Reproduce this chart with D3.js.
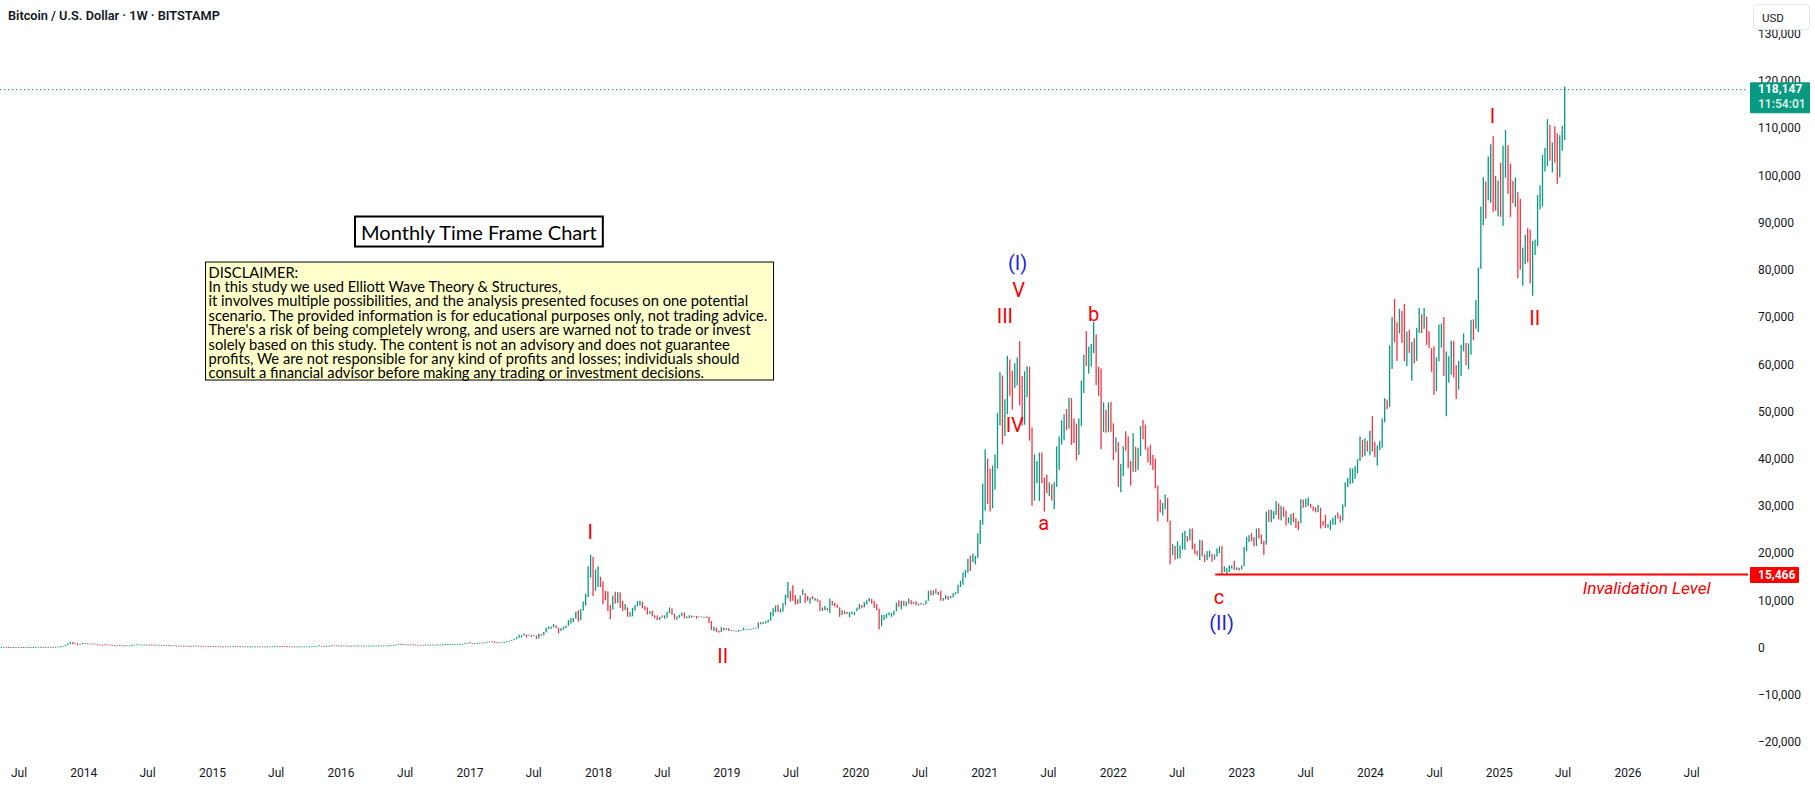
<!DOCTYPE html>
<html>
<head>
<meta charset="utf-8">
<script src="https://cdn.jsdelivr.net/npm/d3@7"></script>
<style>
  body { margin: 0; background: #fff; overflow: hidden; }
  svg { display: block; font-family: Roboto, "Liberation Sans", sans-serif; }
</style>
</head>
<body>
<svg id="chart" width="1815" height="788"></svg>
<script>
// weekly bars as [high, low, close]; each year's list starts on the Monday in yearStarts
// the open of a bar is the close of the bar before it
const firstOpen = 112
const yearStarts = ["2013-05-06", "2014-01-06", "2015-01-05", "2016-01-04", "2017-01-02", "2018-01-01",
  "2019-01-07", "2020-01-06", "2021-01-04", "2022-01-03", "2023-01-02", "2024-01-01", "2025-01-06"]

const w2013 = [[125,106,117],[124,110,123],[134,120,133],[135,117,122],[124,100,107],[110,98,100],[112,99,108],[109,88,90],
  [92,66,77],[99,72,98],[99,87,91],[98,87,95],[108,94,104],[108,101,105],[112,104,110],[123,110,121],[138,118,127],
  [135,117,121],[140,120,135],[135,123,130],[135,127,133],[141,110,127],[142,121,140],[175,140,174],[220,170,190],
  [230,180,227],[340,220,335],[510,320,500],[850,480,800],[1163,770,1000],[1150,680,880],[990,800,870],[900,450,640],
  [770,620,740],[1000,720,940]]
const w2014 = [[1000,800,850],[890,800,830],[880,800,830],[850,790,810],[830,640,680],[690,550,620],[640,460,570],
  [600,420,560],[700,560,635],[650,600,630],[625,560,565],[590,445,460],[490,420,445],[470,360,420],[540,400,500],
  [520,430,440],[460,420,435],[450,430,440],[450,430,445],[580,445,575],[640,560,630],[680,620,655],[670,560,595],
  [625,585,595],[630,560,600],[650,600,635],[640,610,625],[630,605,620],[625,590,595],[600,570,585],[600,575,590],
  [590,470,500],[530,460,510],[515,480,495],[500,470,475],[480,455,475],[480,380,400],[440,390,400],[400,275,365],
  [370,320,360],[400,355,390],[390,350,355],[360,320,330],[370,320,365],[460,355,375],[385,350,370],[385,360,375],
  [380,360,360],[365,330,345],[350,300,320],[335,310,320],[330,270,280]]
const w2015 = [[290,255,270],[275,152,210],[310,200,255],[260,210,225],[245,210,220],[270,215,260],[250,225,240],
  [275,235,275],[300,265,285],[300,275,285],[295,240,250],[265,235,245],[260,240,255],[260,220,225],[230,215,225],
  [240,215,225],[245,220,240],[245,230,240],[245,232,235],[240,230,235],[240,222,225],[230,220,230],[250,225,245],
  [255,240,245],[260,240,255],[270,250,270],[310,265,290],[295,270,280],[295,270,290],[300,280,280],[285,260,265],
  [270,250,255],[260,200,230],[235,200,230],[235,225,230],[245,225,230],[235,225,230],[240,225,235],[245,235,240],
  [250,240,245],[270,245,265],[290,265,285],[335,280,325],[500,320,385],[385,300,330],[340,315,325],[370,315,370],
  [400,355,395],[465,390,455],[470,420,440],[465,420,420],[435,410,430]]
const w2016 = [[460,420,450],[450,360,380],[420,370,400],[400,365,375],[390,365,385],[410,375,405],[445,400,435],
  [440,405,435],[440,400,410],[420,395,410],[420,405,410],[420,405,415],[425,410,420],[425,415,420],[430,420,430],
  [465,425,460],[470,440,460],[465,440,455],[460,445,455],[460,435,445],[535,435,525],[590,515,585],[610,570,605],
  [780,600,760],[770,550,660],[700,620,680],[690,610,650],[680,640,670],[680,650,655],[660,620,625],[630,480,590],
  [600,565,570],[585,565,580],[590,565,570],[615,570,605],[630,600,605],[612,600,605],[610,590,600],[615,595,610],
  [620,605,615],[645,610,640],[660,625,655],[720,650,700],[745,685,700],[715,690,700],[755,690,735],[745,725,735],
  [770,730,765],[775,750,770],[795,765,790],[935,790,920],[1000,890,995]]
const w2017 = [[1150,880,900],[915,750,820],[930,820,920],[930,880,920],[1040,910,1020],[1065,940,1000],[1065,985,1050],
  [1200,1050,1180],[1290,1170,1260],[1330,1100,1240],[1260,940,1020],[1120,890,960],[1100,940,1090],[1210,1070,1180],
  [1210,1160,1180],[1270,1170,1250],[1440,1240,1420],[1620,1400,1600],[1850,1600,1770],[2200,1730,2190],[2760,2050,2200],
  [2560,2070,2550],[2980,2530,2650],[2760,2100,2580],[2770,2530,2520],[2640,2280,2500],[2660,2460,2500],[2540,1830,1920],
  [2900,1900,2750],[2820,2450,2730],[3300,2620,3260],[4200,3200,4050],[4480,3950,4100],[4420,3950,4380],[4980,4300,4560],
  [4700,4100,4200],[4200,2970,3700],[4100,3500,3780],[4400,3750,4380],[4600,4130,4600],[5800,4600,5700],[6200,5100,6000],
  [6250,5400,6150],[7600,6100,7400],[7880,5500,5900],[8100,5800,7800],[9750,7800,9700],[11400,8900,11200],
  [17200,10700,15000],[19666,14800,19000],[19200,10900,13800],[16500,12000,13900]]
const w2018 = [[17200,12800,14200],[15000,12800,13600],[14000,9200,12700],[12000,10000,11600],[11900,7700,8200],
  [9000,6000,8100],[11000,8000,10400],[11800,9300,10300],[11700,9400,11400],[11700,8400,9200],[9900,7700,8200],
  [9200,7900,8200],[8500,6500,6800],[7500,6500,7000],[8400,6600,8300],[9000,7800,8900],[9800,8700,9200],[9900,8900,9700],
  [9700,8300,8600],[8800,7900,8200],[8500,7000,7400],[7700,7100,7600],[7800,6600,6700],[6800,6200,6400],[6800,5800,6100],
  [6500,5800,6400],[6800,6300,6300],[6800,6100,6350],[7600,6300,7400],[8500,7300,8200],[8300,6900,7000],[7150,5900,6300],
  [6600,5900,6400],[6900,6300,6700],[7400,6700,7300],[7400,6200,6300],[6600,6200,6500],[6800,6200,6700],[6800,6300,6600],
  [6700,6500,6600],[6700,6100,6450],[6600,6400,6450],[6600,6400,6400],[6500,6300,6400],[6600,6300,6350],[6500,5200,5600],
  [5600,3700,4000],[4400,3500,4100],[4200,3300,3550],[3600,3150,3250],[4300,3250,3950],[4200,3600,3850],[4100,3700,4000]]
const w2019 = [[4100,3500,3550],[3700,3500,3550],[3650,3450,3500],[3550,3350,3400],[3700,3350,3650],[3700,3550,3650],
  [4200,3650,3800],[3900,3750,3850],[3950,3750,3950],[4000,3800,4000],[4100,3900,4000],[4150,3950,4150],[5300,4100,5200],
  [5400,4900,5100],[5400,5000,5300],[5600,5100,5300],[5900,5300,5800],[7500,5700,7200],[8300,6600,8000],[8900,7500,8700],
  [9000,7500,7600],[8200,7400,8000],[9400,7600,8950],[11200,8950,10800],[13880,10400,11800],[12000,9700,11400],
  [13200,9900,10200],[11100,9100,9700],[10200,9200,9600],[11000,9400,10900],[12300,11100,11500],[11500,9500,10300],
  [10900,9900,10100],[10600,9300,10400],[10900,10200,10300],[10500,9900,10300],[10300,9700,10000],[10000,7700,8200],
  [8500,7700,8300],[8800,7900,8300],[8400,7800,8200],[10350,7300,9500],[9900,8900,9200],[9500,8700,8800],[9100,8400,8500],
  [8500,6500,7100],[7900,6900,7500],[7800,7100,7250],[7500,7100,7100],[7500,6400,7300],[7600,7100,7400],[7500,6900,7760]]
const w2020 = [[8450,7700,8200],[9200,8100,8900],[9000,8300,8600],[9600,8500,9300],[10000,9100,9900],[10500,9700,9900],
  [10300,9300,9700],[9900,8400,8500],[9200,7900,8000],[8200,3850,5400],[6900,4500,5800],[6900,5800,6250],[7200,6200,6800],
  [7450,6800,6900],[7300,6500,7100],[7800,6800,7700],[9500,7700,8900],[10000,8600,8700],[9900,8100,9700],[9900,8800,8800],
  [9700,8700,9450],[10400,9300,9700],[10000,9100,9400],[9600,9200,9300],[9800,8900,9100],[9300,8900,9250],[9500,9100,9300],
  [9300,9000,9200],[10000,9100,9900],[12000,9900,11800],[12100,11000,11700],[12100,11100,11900],[12470,11400,11700],
  [11800,11100,11700],[12050,9900,10250],[10500,9900,10300],[11100,10200,10900],[10900,10100,10700],[10950,10400,10700],
  [11500,10600,11400],[11700,11200,11500],[13300,11400,13000],[14100,12800,13800],[15900,13300,15500],[16400,14800,16100],
  [18800,15800,18400],[19500,16200,18200],[19900,18100,19100],[19400,17600,19250],[24200,19000,24000],[27000,21900,26400],
  [34700,26000,32200]]
const w2021 = [[41950,29000,38200],[40000,30400,35800],[37900,28800,32300],[38500,29500,34300],[40900,33400,39200],
  [49700,37900,48600],[58350,47000,57500],[57600,43000,45200],[52600,44800,51200],[61780,49400,59000],[61000,53300,57500],
  [58600,50400,55800],[60200,55000,58700],[61400,55500,59800],[64900,51300,56100],[57500,47000,49200],[58500,47200,56600],
  [59600,53000,58300],[59500,43800,46400],[46600,30000,34700],[40900,31100,35600],[39500,34800,35800],[41300,31000,39000],
  [41300,34800,35600],[36000,28800,34600],[36600,32700,34100],[35000,32100,34200],[34600,31100,31800],[35000,29300,34200],
  [42600,34000,39900],[44700,37600,44400],[48100,43000,47000],[49400,43900,49300],[50500,46100,48900],[52900,46400,51800],
  [52800,42900,48300],[48500,43300,47200],[47400,39600,43200],[48500,40800,48200],[56500,46900,54900],[62000,53900,61500],
  [67000,59600,61100],[63700,58000,61300],[64300,59500,63300],[69000,62300,65500],[66300,55600,59700],[59500,53300,57300],
  [59100,42000,49400],[51900,45600,50100],[50400,45500,46700],[51900,45600,50800],[52000,45700,47300]]
const w2022 = [[47500,39700,41800],[44500,41300,43100],[43500,34000,36300],[38900,32900,37900],[42600,36300,42400],
  [45800,41700,42200],[44700,38000,38400],[39500,34300,37700],[45400,37200,38000],[42500,37200,37800],[42300,37600,41300],
  [46900,40500,46800],[48200,44100,46400],[47200,41900,42200],[42400,39200,40400],[42900,38600,39500],[40800,37600,38500],
  [40000,33700,34100],[34300,26700,31300],[31300,28600,29400],[30600,28000,29500],[32400,29300,29900],[31700,26600,26600],
  [26900,17600,20600],[21900,19600,21000],[21500,18600,19300],[22500,18800,20800],[21600,18900,20800],[24300,20700,22600],
  [24700,20700,23300],[23600,22400,23200],[25200,22700,24300],[25200,20800,21500],[22000,19800,20000],[20500,19500,19800],
  [22800,18500,21800],[22700,19300,19400],[19700,18100,18800],[20400,18500,19300],[20500,19100,19400],[19800,18200,19200],
  [19700,18600,19600],[21000,19300,20600],[21400,20000,20900],[21500,15600,16300],[17200,16000,16300],[16800,15466,16400],
  [17400,16000,17100],[17400,16700,17100],[18400,16400,16800],[17000,16400,16800],[16900,16300,16600]]
const w2023 = [[17400,16500,17200],[21300,17200,20900],[23400,20400,22700],[23800,22300,23000],[24200,22500,22900],
  [23400,21400,21800],[25200,21500,24600],[25300,23100,23600],[23900,21900,22400],[22600,19600,22100],[28800,21800,28000],
  [29200,26600,27900],[29200,26500,28200],[28900,27200,28300],[31000,28100,30300],[30500,27100,27800],[30000,26900,29200],
  [29800,27700,28400],[29000,25800,26900],[27600,26300,27100],[28300,25900,28100],[28500,26600,27100],[27400,25300,26500],
  [26800,24800,26300],[31400,26300,30500],[31300,29600,30300],[31500,29700,30300],[31800,30000,30300],[30400,29600,29800],
  [29900,28900,29300],[29700,28600,29100],[30200,28700,29400],[29600,25200,26100],[26800,25800,26000],[28100,25300,25800],
  [26100,25400,25800],[26900,24900,26500],[27500,26000,26600],[28000,26000,27970],[28600,27300,27900],[28000,26500,27150],
  [30300,26900,29900],[35000,29800,34500],[35900,34000,35000],[38000,34600,37100],[37900,34800,37400],[38400,35700,37400],
  [39900,36900,39500],[44700,39500,43800],[44000,40300,41900],[44300,40600,43000],[43800,41500,42300]]
const w2024 = [[45900,40700,43900],[49000,41500,41700],[43500,40300,41600],[42800,38500,42100],[43800,41800,42600],
  [48500,42300,48300],[52800,47700,52100],[52500,50500,51700],[64000,50900,63100],[70000,59000,68900],[73800,64600,68300],
  [68900,60700,67200],[71700,66500,69700],[71300,64500,69300],[72800,60600,63900],[66900,59600,64900],[67300,62400,63100],
  [64700,56500,64000],[65500,60200,61500],[67700,60700,66900],[71900,66600,68500],[70600,66600,67800],[71900,67500,69600],
  [70100,64100,66700],[67000,63400,63200],[63400,58400,62700],[63800,53500,55800],[61500,54300,60800],[68400,60600,68200],
  [68600,63500,68200],[70000,57500,58100],[62700,49000,58700],[61700,56100,58900],[65000,57800,64200],[64900,57200,57300],
  [59800,52600,54800],[60700,54600,59900],[64100,57500,63600],[66500,62700,65600],[64500,59800,62800],[64400,58900,62900],
  [69400,62000,68400],[69500,65100,68000],[73600,67500,68800],[80500,66800,80400],[93400,80200,90500],[99600,89400,98000],
  [98700,90800,97700],[104000,94700,101300],[106600,94200,104400],[108300,92200,95200],[99900,92500,93700],[98900,91300,98300]]
const w2025 = [[102700,91200,94500],[106300,89300,101300],[109600,99500,104700],[106400,96100,97700],[102500,91200,96500],
  [98800,94100,96100],[99500,93300,96300],[96500,78200,94200],[95000,80000,80700],[84700,76600,82600],[87400,81200,86100],
  [88800,81600,82400],[88500,77100,78400],[86100,74500,84000],[86400,83100,85200],[95800,85000,93700],[97900,92800,94300],
  [104300,93400,104100],[105800,100800,106400],[111900,102000,109000],[110700,103100,105700],[107000,100600,105800],
  [110400,102700,105600],[108900,98200,100900],[108500,99600,108300],[110500,105200,108900],[118800,107500,118147]]
const yearBars = [w2013, w2014, w2015, w2016, w2017, w2018, w2019, w2020, w2021, w2022, w2023, w2024, w2025]

const lastPrice = 118147
const lastTimer = "11:54:01"
const invalidation = 15466
const invalidationFrom = "2022-10-19"

const priceTicks = [130000, 120000, 110000, 100000, 90000, 80000, 70000, 60000, 50000, 40000, 30000, 20000, 10000, 0, -10000, -20000]
const dateTicks = ["2013-07-01", "2014-01-01", "2014-07-01", "2015-01-01", "2015-07-01", "2016-01-01", "2016-07-01",
  "2017-01-01", "2017-07-01", "2018-01-01", "2018-07-01", "2019-01-01", "2019-07-01", "2020-01-01", "2020-07-01",
  "2021-01-01", "2021-07-01", "2022-01-01", "2022-07-01", "2023-01-01", "2023-07-01", "2024-01-01", "2024-07-01",
  "2025-01-01", "2025-07-01", "2026-01-01", "2026-07-01"]

// wave labels: [date, price, text, colour]
const waveLabels = [
  ["2017-12-10", 24520, "I", "#f70000"],
  ["2018-12-21", -1740, "II", "#f70000"],
  ["2021-03-01", 70200, "III", "#f70000"],
  ["2021-03-29", 47120, "IV", "#f70000"],
  ["2021-04-09", 75800, "V", "#f70000"],
  ["2021-04-06", 81500, "(I)", "#1f1fe0"],
  ["2021-06-19", 26370, "a", "#f70000"],
  ["2021-11-08", 70630, "b", "#f70000"],
  ["2022-10-30", 10690, "c", "#f70000"],
  ["2022-11-06", 5190, "(II)", "#1f1fe0"],
  ["2024-12-14", 112560, "I", "#f70000"],
  ["2025-04-13", 69840, "II", "#f70000"]
]

const boxTitle = "Monthly Time Frame Chart"
const boxTitleAt = ["2017-01-28", 88100]
const disclaimerAt = ["2014-12-14", 81640]
const disclaimer = [
  "DISCLAIMER:",
  "In this study we used Elliott Wave Theory & Structures,",
  "it involves multiple possibilities, and the analysis presented focuses on one potential",
  "scenario. The provided information is for educational purposes only, not trading advice.",
  "There's a risk of being completely wrong, and users are warned not to trade or invest",
  "solely based on this study. The content is not an advisory and does not guarantee",
  "profits, We are not responsible for any kind of profits and losses; individuals should",
  "consult a financial advisor before making any trading or investment decisions."
]
const invalidationText = ["2025-08-27", 11400, "Invalidation Level"]

const up = "#089981", down = "#f23645", ink = "#131722"

// build the bar list
const parse = d3.utcParse("%Y-%m-%d")
const bars = []
let prev = firstOpen
yearBars.forEach((list, i) => {
  const start = parse(yearStarts[i])
  list.forEach((b, k) => {
    bars.push({ date: d3.utcDay.offset(start, k * 7), open: prev, high: b[0], low: b[1], close: b[2] })
    prev = b[2]
  })
})

const plotRight = 1748, plotBottom = 756

const x = d3.scaleUtc()
  .domain([parse("2014-01-01"), parse("2026-01-01")])
  .range([83.3, 1627.4])
const y = d3.scaleLinear()
  .domain([0, 120000])
  .range([647.5, 80.9])

const svg = d3.select("#chart")

svg.append("defs").append("clipPath").attr("id", "plot")
  .append("rect").attr("x", 0).attr("y", 0).attr("width", plotRight).attr("height", plotBottom)

const plot = svg.append("g").attr("clip-path", "url(#plot)")

// candles
plot.append("g").selectAll("rect")
  .data(bars)
  .enter()
  .append("rect")
  .attr("x", d => x(d.date) - 0.65)
  .attr("width", 1.3)
  .attr("y", d => y(d.high))
  .attr("height", d => Math.max(1, y(d.low) - y(d.high)))
  .attr("fill", d => d.close >= d.open ? up : down)

// last price dotted line
plot.append("line")
  .attr("x1", 0).attr("x2", plotRight)
  .attr("y1", y(lastPrice)).attr("y2", y(lastPrice))
  .attr("stroke", up).attr("stroke-width", 1)
  .attr("stroke-dasharray", "1.5,2.5")

// invalidation line
plot.append("line")
  .attr("x1", x(parse(invalidationFrom))).attr("x2", plotRight)
  .attr("y1", y(invalidation)).attr("y2", y(invalidation))
  .attr("stroke", "#ff0000").attr("stroke-width", 2)

function fitWidth(sel, target) {
  const w = sel.node().getComputedTextLength()
  const fs = parseFloat(sel.attr("font-size"))
  return fs * target / w
}

const inv = plot.append("text")
  .attr("x", x(parse(invalidationText[0])))
  .attr("y", y(invalidationText[1]))
  .attr("font-size", 15)
  .attr("font-style", "italic")
  .attr("fill", "#f70000")
  .text(invalidationText[2])
inv.attr("font-size", fitWidth(inv, 128))

// wave labels
plot.append("g").selectAll("text")
  .data(waveLabels)
  .enter()
  .append("text")
  .attr("x", d => x(parse(d[0])))
  .attr("y", d => y(d[1]))
  .attr("text-anchor", "middle")
  .attr("dominant-baseline", "central")
  .attr("font-size", 20)
  .attr("fill", d => d[3])
  .text(d => d[2])

// title box
const tb = svg.append("g")
const tbt = tb.append("text")
  .attr("x", x(parse(boxTitleAt[0])))
  .attr("y", y(boxTitleAt[1]))
  .attr("text-anchor", "middle")
  .attr("dominant-baseline", "central")
  .attr("font-family", "Lato, sans-serif")
  .attr("font-size", 18)
  .attr("fill", "#000")
  .text(boxTitle)
tbt.attr("font-size", fitWidth(tbt, 236))
const tbb = tbt.node().getBBox()
tb.insert("rect", "text")
  .attr("x", tbb.x - 6).attr("y", y(boxTitleAt[1]) - 15)
  .attr("width", tbb.width + 12).attr("height", 30)
  .attr("fill", "#fff").attr("stroke", "#000").attr("stroke-width", 2)

// disclaimer box
const db = svg.append("g")
const dx = x(parse(disclaimerAt[0])), dy = y(disclaimerAt[1])
const lines = db.selectAll("text")
  .data(disclaimer)
  .enter()
  .append("text")
  .attr("x", dx + 3)
  .attr("y", (d, i) => dy + 9.5 + i * 14.4)
  .attr("dominant-baseline", "central")
  .attr("font-family", "Lato, sans-serif")
  .attr("font-size", 13)
  .attr("fill", "#000")
  .text(d => d)
const dfs = fitWidth(d3.select(lines.nodes()[3]), 559)
lines.attr("font-size", dfs)
db.insert("rect", "text")
  .attr("x", dx).attr("y", dy)
  .attr("width", 568).attr("height", 118)
  .attr("fill", "#ffffcc").attr("stroke", "#000").attr("stroke-width", 1)

// chart title
const title = svg.append("text")
  .attr("x", 8).attr("y", 20)
  .attr("font-size", 13).attr("font-weight", 600)
  .attr("fill", ink)
  .text("Bitcoin / U.S. Dollar \u00b7 1W \u00b7 BITSTAMP")
title.attr("font-size", fitWidth(title, 212))

// date axis
const xAxis = svg.append("g")
  .attr("transform", `translate(0,${plotBottom + 8})`)
  .call(d3.axisBottom(x)
    .tickValues(dateTicks.map(parse))
    .tickSize(0)
    .tickPadding(4)
    .tickFormat(d => d.getUTCMonth() === 6 ? "Jul" : d3.utcFormat("%Y")(d)))
xAxis.select(".domain").remove()
xAxis.selectAll("text").attr("font-size", 12).attr("font-family", "Roboto, sans-serif").attr("fill", ink)

// price axis
const yAxis = svg.append("g")
  .attr("transform", `translate(${plotRight},0)`)
  .call(d3.axisRight(y)
    .tickValues(priceTicks)
    .tickSize(0)
    .tickPadding(10)
    .tickFormat(d => d3.format(",")(d).replace("-", "\u2212")))
yAxis.select(".domain").remove()
yAxis.selectAll("text").attr("font-size", 12).attr("font-family", "Roboto, sans-serif").attr("fill", ink)

// last price badge
const ly = y(lastPrice)
svg.append("rect")
  .attr("x", plotRight + 2).attr("y", ly - 7.5)
  .attr("width", 60).attr("height", 31)
  .attr("rx", 1)
  .attr("fill", up)
svg.append("text")
  .attr("x", plotRight + 10).attr("y", ly - 1)
  .attr("dominant-baseline", "central")
  .attr("font-size", 12).attr("font-weight", 700)
  .attr("fill", "#fff")
  .text(d3.format(",")(lastPrice))
svg.append("text")
  .attr("x", plotRight + 10).attr("y", ly + 14)
  .attr("dominant-baseline", "central")
  .attr("font-size", 12).attr("font-weight", 600)
  .attr("fill", "#fff").attr("fill-opacity", 0.85)
  .text(lastTimer)

// invalidation badge
const iy = y(invalidation)
svg.append("rect")
  .attr("x", plotRight + 2).attr("y", iy - 7.5)
  .attr("width", 49).attr("height", 16)
  .attr("rx", 1)
  .attr("fill", "#ff0000")
svg.append("text")
  .attr("x", plotRight + 10).attr("y", iy + 0.5)
  .attr("dominant-baseline", "central")
  .attr("font-size", 12).attr("font-weight", 700)
  .attr("fill", "#fff")
  .text(d3.format(",")(invalidation))

// currency button
svg.append("rect")
  .attr("x", 1753.5).attr("y", 4.5)
  .attr("width", 56).attr("height", 25)
  .attr("rx", 4)
  .attr("fill", "#fff").attr("stroke", "#e0e3eb")
svg.append("text")
  .attr("x", 1762).attr("y", 17.5)
  .attr("dominant-baseline", "central")
  .attr("font-size", 11.5)
  .attr("fill", ink)
  .text("USD")
</script>
</body>
</html>
